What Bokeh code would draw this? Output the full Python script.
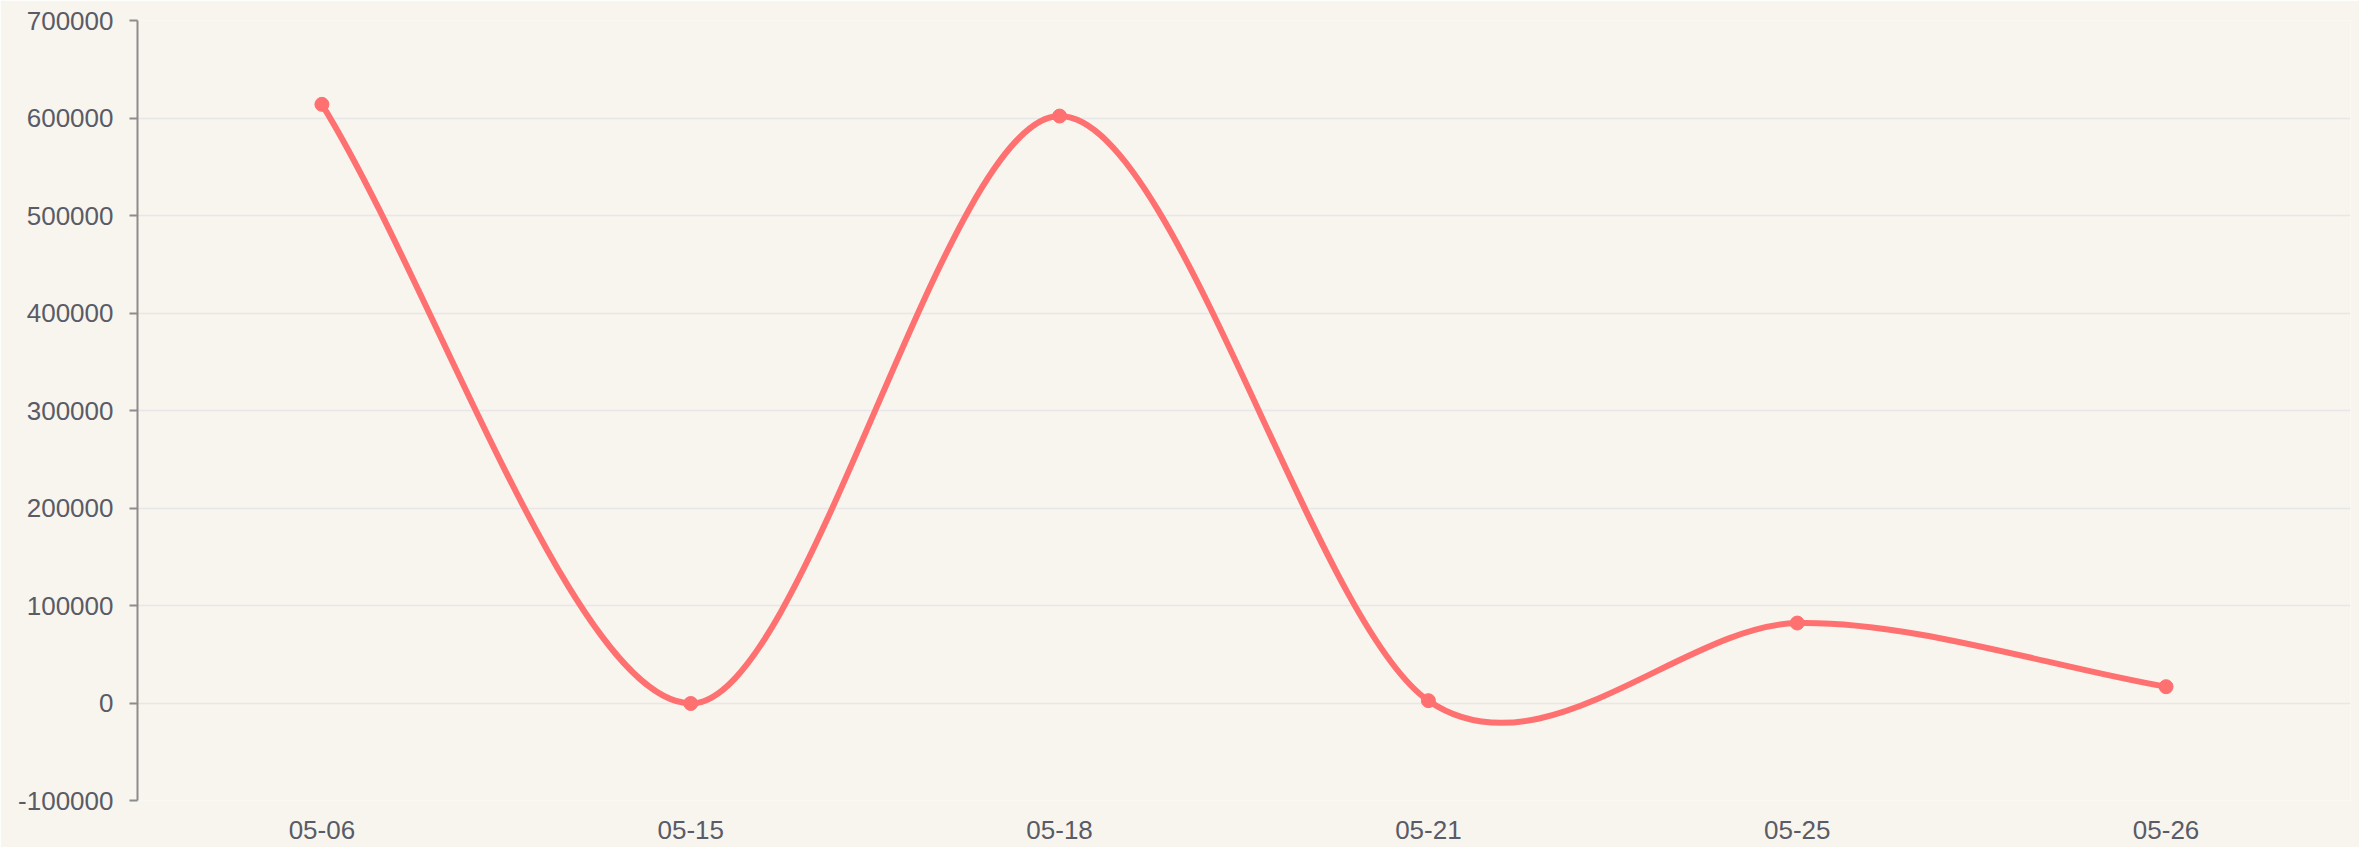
from bokeh.plotting import figure
from bokeh.models import Range1d, FixedTicker, PrintfTickFormatter
from bokeh.embed import file_html
from bokeh.resources import INLINE

# ---- data ----
dates = ["05-06", "05-15", "05-18", "05-21", "05-25", "05-26"]
values = [614000, -500, 602000, 2400, 82000, 16700]
y_ticks = [-100000, 0, 100000, 200000, 300000, 400000, 500000, 600000, 700000]

LINE = "#ff7070"
BG = "#f8f5ee"
AXIS = "#8c8c8c"
LABEL = "#595b66"
GRID = "#e7e6e8"
FONT = "Liberation Sans"

W, H = 2359, 847
BL, BR, BT, BB = 137, 9, 20, 47
y_lo, y_hi = y_ticks[0], y_ticks[-1]

p = figure(width=W, height=H, output_backend="svg", toolbar_location=None,
           x_range=Range1d(0, len(dates)), y_range=Range1d(y_lo, y_hi),
           min_border_left=BL, min_border_right=BR, min_border_top=BT, min_border_bottom=BB)
p.background_fill_color = BG
p.border_fill_color = BG
p.outline_line_color = None

xs = [i + 0.5 for i in range(len(dates))]

# cardinal-style smoothing: control points derived from neighbouring data points
tension = 0.31
pts = list(zip(xs, values))
n = len(pts)
cp_in = [None] * n
cp_out = [None] * n
for i in range(n):
    x, y = pts[i]
    px, py = pts[i - 1] if i > 0 else pts[i]
    nx, ny = pts[i + 1] if i < n - 1 else pts[i]
    if i == 0:
        f_in, f_out = 0.0, tension
    elif i == n - 1:
        f_in, f_out = tension, 0.0
    else:
        f_in = f_out = tension * 0.5
    cp_in[i] = (x - f_in * (nx - px), y - f_in * (ny - py))
    cp_out[i] = (x + f_out * (nx - px), y + f_out * (ny - py))

x0 = xs[:-1]; y0 = values[:-1]; x1 = xs[1:]; y1 = values[1:]
cx0 = [cp_out[i][0] for i in range(n - 1)]
cy0 = [cp_out[i][1] for i in range(n - 1)]
cx1 = [cp_in[i + 1][0] for i in range(n - 1)]
cy1 = [cp_in[i + 1][1] for i in range(n - 1)]

p.bezier(x0=x0, y0=y0, x1=x1, y1=y1, cx0=cx0, cy0=cy0, cx1=cx1, cy1=cy1,
         line_color=LINE, line_width=6)
p.scatter(xs, values, size=14, fill_color=LINE, line_color=LINE)

# grid
p.xgrid.grid_line_color = None
p.ygrid.grid_line_color = GRID
p.ygrid.grid_line_width = 1.5

# y axis
p.yaxis.ticker = FixedTicker(ticks=y_ticks)
p.yaxis.formatter = PrintfTickFormatter(format="%d")
p.yaxis.axis_line_color = AXIS
p.yaxis.axis_line_width = 2
p.yaxis.major_tick_line_color = AXIS
p.yaxis.major_tick_line_width = 2
p.yaxis.major_tick_out = 8
p.yaxis.major_tick_in = 0
p.yaxis.minor_tick_line_color = None
p.yaxis.major_label_standoff = 16
p.yaxis.major_label_text_font = FONT
p.yaxis.major_label_text_font_size = "26px"
p.yaxis.major_label_text_color = LABEL

# x axis
p.xaxis.ticker = FixedTicker(ticks=xs)
p.xaxis.major_label_overrides = {x: d for x, d in zip(xs, dates)}
p.xaxis.axis_line_color = None
p.xaxis.major_tick_line_color = None
p.xaxis.minor_tick_line_color = None
p.xaxis.major_tick_out = 0
p.xaxis.major_label_standoff = 20
p.xaxis.major_label_text_font = FONT
p.xaxis.major_label_text_font_size = "26px"
p.xaxis.major_label_text_color = LABEL

open("out.html", "w").write(file_html(p, INLINE))
